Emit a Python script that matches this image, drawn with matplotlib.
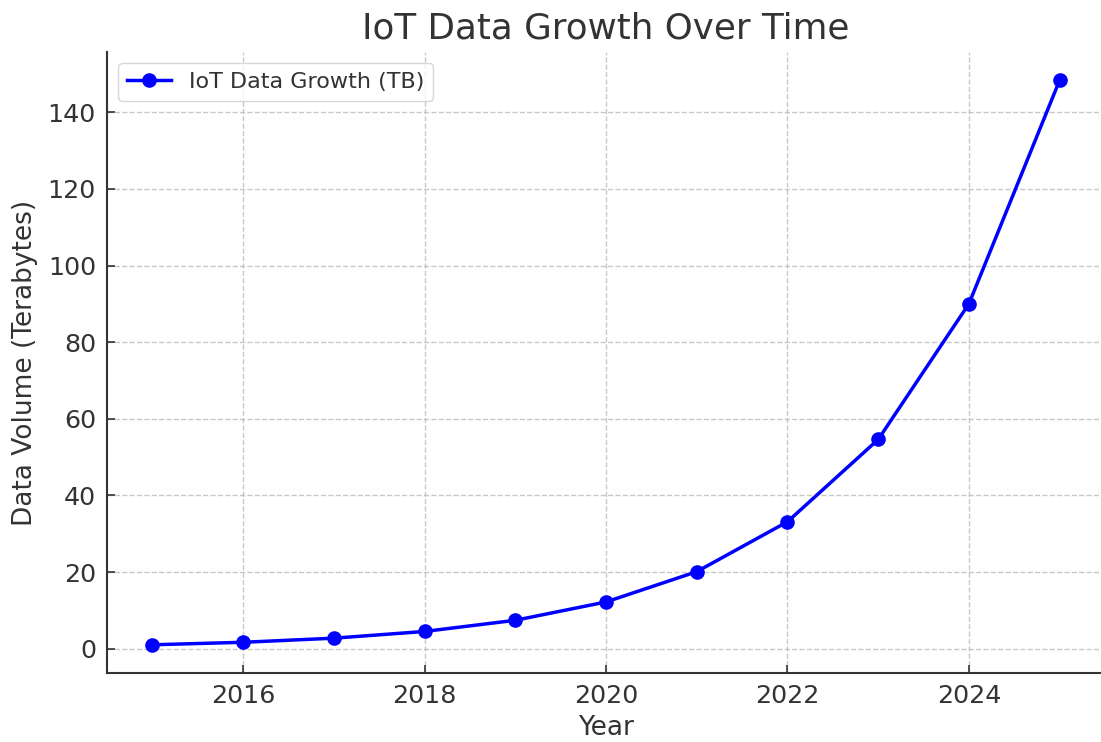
import matplotlib.pyplot as plt

years = [2015, 2016, 2017, 2018, 2019, 2020, 2021, 2022, 2023, 2024, 2025]
data_tb = [1.0, 1.65, 2.72, 4.48, 7.39, 12.18, 20.09, 33.12, 54.6, 90.02, 148.4]

TEXT = '#333333'


def main():
    fig = plt.figure(figsize=(11.01, 7.42), dpi=100)
    ax = fig.add_axes([107 / 1101, 1 - 673 / 742, 1 - 107 / 1101 + 4 / 1101, (673 - 52) / 742])

    ax.plot(years, data_tb, color='blue', marker='o', linewidth=2.5,
            markersize=9.5, label='IoT Data Growth (TB)')

    ax.set_title('IoT Data Growth Over Time', fontsize=25.7, color=TEXT, pad=10)
    ax.set_xlabel('Year', fontsize=19, color=TEXT, labelpad=5)
    ax.set_ylabel('Data Volume (Terabytes)', fontsize=19, color=TEXT, labelpad=7)
    ax.tick_params(axis='both', direction='in', labelsize=18.3, labelcolor=TEXT,
                   color=TEXT, length=6, width=1.2, pad=8)
    ax.grid(True, linestyle='--', color='#bbbbbb', alpha=0.8, linewidth=1)

    for side in ['top', 'right']:
        ax.spines[side].set_visible(False)
    for side in ['left', 'bottom']:
        ax.spines[side].set_color(TEXT)
        ax.spines[side].set_linewidth(1.5)

    leg = ax.legend(loc='upper left', fontsize=16)
    for t in leg.get_texts():
        t.set_color(TEXT)

    fig.savefig('out.png', dpi=100)


if __name__ == "__main__":
    main()
